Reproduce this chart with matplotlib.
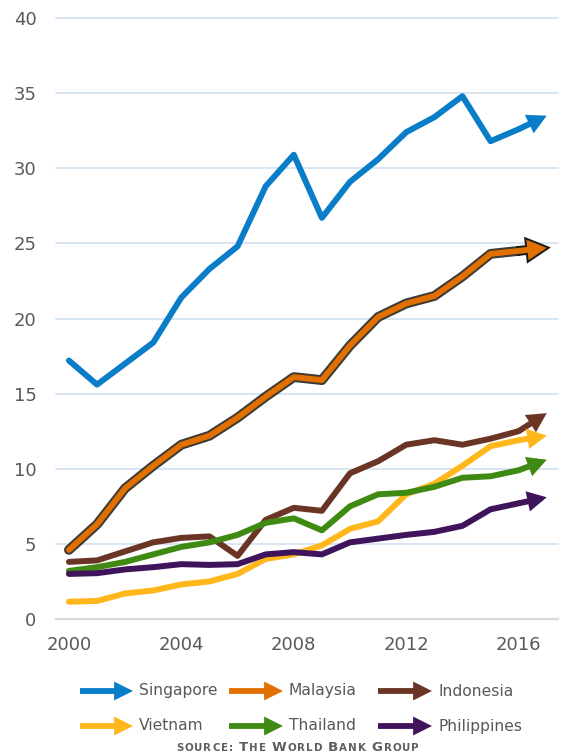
import matplotlib
matplotlib.use("Agg")
import matplotlib.pyplot as plt
from matplotlib.patches import FancyArrowPatch

years = list(range(2000, 2018))
singapore = [17.2, 15.6, 17.0, 18.4, 21.4, 23.3, 24.8, 28.8, 30.9, 26.7, 29.1, 30.6, 32.4, 33.4, 34.8, 31.8, 32.6, 33.5]
malaysia = [4.6, 6.3, 8.7, 10.2, 11.6, 12.2, 13.4, 14.8, 16.1, 15.9, 18.2, 20.1, 21.0, 21.5, 22.8, 24.3, 24.5, 24.7]
indonesia = [3.8, 3.9, 4.5, 5.1, 5.4, 5.5, 4.2, 6.6, 7.4, 7.2, 9.7, 10.5, 11.6, 11.9, 11.6, 12.0, 12.5, 13.7]
vietnam = [1.15, 1.2, 1.7, 1.9, 2.3, 2.5, 3.0, 4.0, 4.3, 4.9, 6.0, 6.5, 8.3, 9.0, 10.2, 11.5, 11.9, 12.2]
thailand = [3.2, 3.45, 3.8, 4.3, 4.8, 5.1, 5.6, 6.4, 6.7, 5.9, 7.5, 8.3, 8.4, 8.8, 9.4, 9.5, 9.9, 10.6]
philippines = [3.0, 3.05, 3.3, 3.45, 3.65, 3.6, 3.65, 4.3, 4.45, 4.3, 5.1, 5.35, 5.6, 5.8, 6.2, 7.3, 7.7, 8.1]

names = ["Singapore", "Malaysia", "Indonesia", "Vietnam", "Thailand", "Philippines"]
series = [singapore, malaysia, indonesia, vietnam, thailand, philippines]
colors = ["#0a7dc8", "#e07000", "#6b3526", "#ffb71b", "#3e8a12", "#40145a"]
yticks = [0, 5, 10, 15, 20, 25, 30, 35, 40]
xticks = [2000, 2004, 2008, 2012, 2016]

GRAY = "#595959"
LW = 4.3
HEAD = "simple,head_length=0.7,head_width=0.74,tail_width=%.3f"

fig = plt.figure(figsize=(5.61, 7.54), dpi=100)
ax = fig.add_axes([56 / 561, 1 - 619 / 754, 502 / 561, 601 / 754])


def arrow_line(x, y, color, lw, z, edge=None, elw=0):
    ax.plot(x[:-1], y[:-1], color=color, lw=lw, solid_capstyle="round",
            solid_joinstyle="round", zorder=z, clip_on=False)
    a = FancyArrowPatch((x[-2], y[-2]), (x[-1], y[-1]), arrowstyle=HEAD % (lw / 20),
                        mutation_scale=20, shrinkA=0, shrinkB=0,
                        fc=color, ec=edge if edge else "none", lw=elw,
                        joinstyle="miter", zorder=z, clip_on=False)
    ax.add_patch(a)


for i, (name, vals, col) in enumerate(zip(names, series, colors)):
    z = 3 + 2 * i
    if name == "Malaysia":
        # soft black outline under the orange line
        ax.plot(years[:-1], vals[:-1], color="#1a1a1a", lw=LW + 2.8, solid_capstyle="round",
                solid_joinstyle="round", zorder=z, clip_on=False, alpha=0.85)
        arrow_line(years, vals, "#1a1a1a", LW, z, edge="#1a1a1a", elw=2.8)
        arrow_line(years, vals, col, LW, z + 1)
    else:
        arrow_line(years, vals, col, LW, z)

ax.set_xlim(1999.54, 2017.4)
ax.set_ylim(0, 40)
ax.set_yticks(yticks)
ax.set_xticks(xticks)
ax.set_yticklabels([str(v) for v in yticks])
ax.set_xticklabels([str(v) for v in xticks])
for v in yticks[1:]:
    ax.axhline(v, color="#cddff1", lw=1.1, zorder=1, clip_on=False)
ax.axhline(0, color="#d9d9d9", lw=1.6, zorder=1, clip_on=False)
for s in ax.spines.values():
    s.set_visible(False)
ax.tick_params(axis="both", length=0, labelsize=13, labelcolor=GRAY)
ax.tick_params(axis="y", pad=14)
ax.tick_params(axis="x", pad=12)
ax.patch.set_alpha(0)

# legend drawn by hand: two rows of three arrows
col_x = [(80, 133, 139), (229, 283, 289), (378, 432, 438)]
row_y = [691, 726]
for i, (name, col) in enumerate(zip(names, colors)):
    r, c = divmod(i, 3)
    x0, x1, xt = col_x[c]
    yf = 1 - row_y[r] / 754
    fig.add_artist(FancyArrowPatch((x0 / 561, yf), (x1 / 561, yf),
                                   arrowstyle="simple,head_length=0.68,head_width=0.68,tail_width=0.21",
                                   mutation_scale=20, shrinkA=0, shrinkB=0,
                                   fc=col, ec="none", lw=0,
                                   transform=fig.transFigure))
    fig.text(xt / 561, yf, name, fontsize=11.2, color=GRAY, va="center", ha="left")

# source line in small caps
pieces = []
for word in ["source:", "The", "World", "Bank", "Group"]:
    for ch in word:
        if ch.isupper() and word != "source:":
            pieces.append((ch, 9.6))
        else:
            pieces.append((ch.upper(), 7.4))
    pieces.append((" ", 7.4))
pieces = pieces[:-1]

fig.canvas.draw()
rend = fig.canvas.get_renderer()
texts = []
widths = []
for ch, fs in pieces:
    t = fig.text(0, 0, ch if ch != " " else "\u00a0", fontsize=fs, fontweight="bold",
                 color="#5f5f5f", ha="left", va="baseline")
    texts.append(t)
    widths.append(t.get_window_extent(rend).width)
left, right = 176, 419
track = (right - left - sum(widths)) / (len(pieces) - 1)
x = left
for t, w in zip(texts, widths):
    t.set_position((x / 561, 1 - 751 / 754))
    x += w + track

fig.savefig("out.png", dpi=100)
